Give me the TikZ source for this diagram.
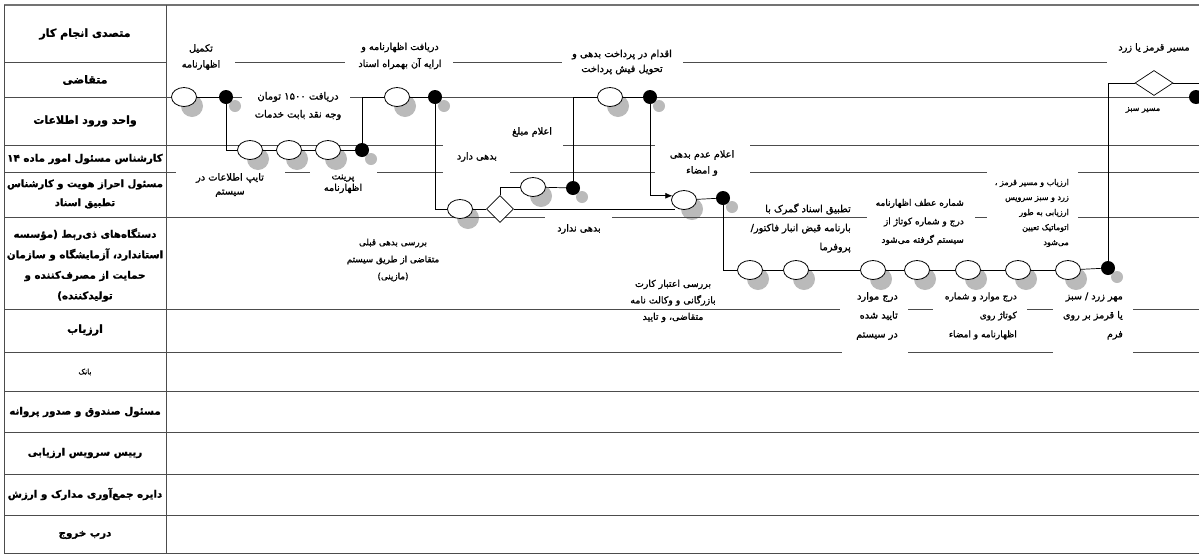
\documentclass[tikz,border=0pt]{standalone}
\usepackage{fontspec}
\usetikzlibrary{shapes.geometric,arrows.meta}
\newfontfamily\fafont[Script=Arabic,FakeBold=1.3]{DejaVu Sans}
\TeXXeTstate=1
\newcommand\fa[1]{\beginR #1\endR}
\pgfdeclarelayer{bg}
\pgfsetlayers{bg,main}
\tikzset{
  gridl/.style={line width=0.8pt, draw=black!70},
  conn/.style={line width=0.7pt, draw=black},
  evs/.style={ellipse, draw=black, line width=0.8pt, fill=white, minimum width=25pt, minimum height=19pt, inner sep=0pt},
  bds/.style={circle, fill=black, minimum size=14pt, inner sep=0pt},
  dms/.style={diamond, draw=black, line width=0.7pt, fill=white, inner sep=0pt},
  shcol/.style={fill=black!27},
  txt/.style={font=\fafont\fontsize{9.7}{16}\selectfont, align=center, inner sep=1pt},
  hd/.style={font=\fafont\bfseries\fontsize{10.3}{21}\selectfont, align=center, inner sep=1pt},
}
\newcommand\evt[3]{%
  \begin{pgfonlayer}{bg}\fill[shcol] (#2+8,#3+9) circle (11pt);\end{pgfonlayer}
  \node[evs] (#1) at (#2,#3) {};}
\newcommand\bdot[3]{%
  \begin{pgfonlayer}{bg}\fill[shcol] (#2+9,#3+9) circle (6pt);\end{pgfonlayer}
  \node[bds] (#1) at (#2,#3) {};}
\begin{document}
\begin{tikzpicture}[x=1pt,y=-1pt]
\useasboundingbox (0,0) rectangle (1199,555);
% frame and grid
\draw[line width=2pt, black!55] (4,5) -- (1199,5);
\draw[gridl] (4,5) -- (4,553) -- (1199,553);
\draw[gridl] (166,5) -- (166,553);
\foreach \y in {62,97,145,172,217,309,352,391,432,474,515} \draw[gridl] (4,\y) -- (166,\y);
\foreach \y in {391,432,474,515} \draw[gridl] (166,\y) -- (1199,\y);
\foreach \a/\b/\y in {235/345/62, 453/562/62, 683/1107/62, 166/242/97, 350/1199/97,
  166/443/145, 563/655/145, 750/1199/145,
  166/176/172, 285/310/172, 377/443/172, 510/655/172, 750/987/172, 1078/1199/172,
  166/545/217, 612/867/217, 975/987/217, 1078/1199/217,
  166/840/309, 908/933/309, 1027/1053/309, 1133/1199/309,
  166/842/352, 908/1053/352, 1133/1199/352}
  \draw[gridl] (\a,\y) -- (\b,\y);

% lane headings
\node[hd, font=\fafont\bfseries\fontsize{11}{21}\selectfont] (h1) at (85,34) {\fa{متصدی  انجام کار}};
\node[hd, font=\fafont\bfseries\fontsize{11}{21}\selectfont] (h2) at (85,80) {\fa{متقاضی}};
\node[hd, font=\fafont\bfseries\fontsize{11}{21}\selectfont] (h3) at (85,121) {\fa{واحد ورود اطلاعات}};
\node[hd] (h4) at (85,159) {\fa{کارشناس مسئول امور ماده ۱۴}};
\node[hd, font=\fafont\bfseries\fontsize{10}{19}\selectfont] (h5) at (85,194) {\fa{مسئول احراز هویت و کارشناس}\\\fa{تطبیق اسناد}};
\node[hd, font=\fafont\bfseries\fontsize{10.3}{20.5}\selectfont] (h6) at (85,265) {\fa{دستگاه‌های ذی‌ربط (مؤسسه}\\\fa{استاندارد، آزمایشگاه و سازمان}\\\fa{حمایت از مصرف‌کننده و}\\\fa{تولیدکننده)}};
\node[hd, font=\fafont\bfseries\fontsize{11}{21}\selectfont] (h7) at (85,330) {\fa{ارزیاب}};
\node[txt, font=\fafont\fontsize{7.5}{9}\selectfont] (h8) at (85,372) {\fa{بانک}};
\node[hd] (h9) at (85,412) {\fa{مسئول صندوق و صدور پروانه}};
\node[hd] (h10) at (85,453) {\fa{رییس سرویس ارزیابی}};
\node[hd] (h11) at (85,494) {\fa{دایره جمع‌آوری مدارک و ارزش}};
\node[hd] (h12) at (85,535) {\fa{درب خروج}};

% process nodes
\evt{c1}{184}{97}
\bdot{d1}{226}{97}
\evt{c2}{250}{150}
\evt{c3}{289}{150}
\evt{c4}{328}{150}
\bdot{d2}{362}{150}
\evt{c5}{397}{97}
\bdot{d3}{435}{97}
\evt{c6}{460}{209}
\node[dms, minimum width=27pt, minimum height=27pt] (dm1) at (500,209) {};
\evt{c7}{533}{187}
\bdot{d4}{573}{188}
\evt{c8}{610}{97}
\bdot{d5}{650}{97}
\evt{c9}{684}{200}
\bdot{d6}{723}{198}
\evt{c10}{750}{270}
\evt{c11}{796}{270}
\evt{c12}{873}{270}
\evt{c13}{917}{270}
\evt{c14}{968}{270}
\evt{c15}{1018}{270}
\evt{c16}{1068}{270}
\bdot{d7}{1108}{268}
\node[dms, minimum width=38pt, minimum height=25pt] (dm2) at (1154,83) {};
\bdot{d8}{1196}{97}
\coordinate (e2) at (1199,83);

% connectors
\draw[conn] (c1) -- (d1);
\draw[conn] (d1) |- (c2);
\draw[conn] (c2) -- (c3);
\draw[conn] (c3) -- (c4);
\draw[conn] (c4) -- (d2);
\draw[conn] (d2) |- (c5);
\draw[conn] (c5) -- (d3);
\draw[conn] (d3) |- (c6);
\draw[conn] (c6) -- (dm1);
\draw[conn] (dm1.north) |- (c7);
\draw[conn] (c7) -- (d4);
\draw[conn] (d4) |- (c8);
\draw[conn] (c8) -- (d5);
\draw[conn, -{Latex[length=7pt,width=6pt]}] (d5) |- (c9.160);
\draw[conn] (dm1.east) -- (dm1.east -| c9.south west);
\draw[conn] (c9) -- (d6);
\draw[conn] (d6) |- (c10);
\draw[conn] (c10) -- (c11);
\draw[conn] (c11) -- (c12);
\draw[conn] (c12) -- (c13);
\draw[conn] (c13) -- (c14);
\draw[conn] (c14) -- (c15);
\draw[conn] (c15) -- (c16);
\draw[conn] (c16) -- (d7);
\draw[conn] (d7) |- (dm2);
\draw[conn] (dm2) -- (e2);

% labels
\node[txt] (t1) at (201,57) {\fa{تکمیل}\\\fa{اظهارنامه}};
\node[txt, font=\fafont\fontsize{9.6}{17}\selectfont] (t2) at (400,56) {\fa{دریافت اظهارنامه و}\\\fa{ارایه آن بهمراه اسناد}};
\node[txt, font=\fafont\fontsize{9.8}{15}\selectfont] (t3) at (622,62) {\fa{اقدام در پرداخت بدهی و}\\\fa{تحویل فیش پرداخت}};
\node[txt] (t4) at (1154,48) {\fa{مسیر قرمز  یا زرد}};
\node[txt, font=\fafont\fontsize{8}{9}\selectfont] (t5) at (1143,110) {\fa{مسیر سبز}};
\node[txt, font=\fafont\fontsize{10}{18}\selectfont] (t6) at (298,106) {\fa{دریافت ۱۵۰۰ تومان}\\\fa{وجه نقد بابت خدمات}};
\node[txt] (t7) at (532,132) {\fa{اعلام مبلغ}};
\node[txt] (t8) at (477,157) {\fa{بدهی دارد}};
\node[txt] (t9) at (702,163) {\fa{اعلام عدم  بدهی}\\\fa{و امضاء}};
\node[txt, font=\fafont\fontsize{9.8}{14}\selectfont] (t10) at (230,185) {\fa{تایپ  اطلاعات در}\\\fa{سیستم}};
\node[txt, font=\fafont\fontsize{9.6}{11.5}\selectfont] (t11) at (343,184) {\fa{پرینت}\\\fa{اظهارنامه}};
\node[txt] (t12) at (579,229) {\fa{بدهی ندارد}};
\node[txt, font=\fafont\fontsize{8.8}{17}\selectfont] (t13) at (393,260) {\fa{بررسی بدهی قبلی}\\\fa{متقاضی از طریق سیستم}\\\fa{(مازینی)}};
\node[txt, align=right, anchor=east, font=\fafont\fontsize{9.8}{19}\selectfont] (t14) at (852,228) {\fa{تطبیق اسناد گمرک با}\\\fa{بارنامه قبض انبار فاکتور/}\\\fa{پروفرما}};
\node[txt, align=right, anchor=east, font=\fafont\fontsize{9}{18.5}\selectfont] (t15) at (965,222) {\fa{شماره عطف اظهارنامه}\\\fa{درج و شماره کوتاژ از}\\\fa{سیستم گرفته می‌شود}};
\node[txt, align=right, anchor=east, font=\fafont\fontsize{8}{15}\selectfont] (t16) at (1070,213) {\fa{ارزیاب و مسیر قرمز ،}\\\fa{زرد و سبز سرویس}\\\fa{ارزیابی به طور}\\\fa{اتوماتیک تعیین}\\\fa{می‌شود}};
\node[txt, align=right, anchor=east, font=\fafont\fontsize{9.8}{19}\selectfont] (t17) at (899,316) {\fa{درج موارد}\\\fa{تایید شده}\\\fa{در سیستم}};
\node[txt, align=right, anchor=east, font=\fafont\fontsize{9}{19}\selectfont] (t18) at (1018,316) {\fa{درج موارد و شماره}\\\fa{کوتاژ روی}\\\fa{اظهارنامه و امضاء}};
\node[txt, align=right, anchor=east, font=\fafont\fontsize{9.6}{19}\selectfont] (t19) at (1124,316) {\fa{مهر زرد / سبز}\\\fa{یا قرمز بر روی}\\\fa{فرم}};
\node[txt, font=\fafont\fontsize{9.4}{16.5}\selectfont] (t20) at (673,301) {\fa{بررسی اعتبار کارت}\\\fa{بازرگانی و وکالت نامه}\\\fa{متقاضی، و تایید}};
\end{tikzpicture}
\end{document}
